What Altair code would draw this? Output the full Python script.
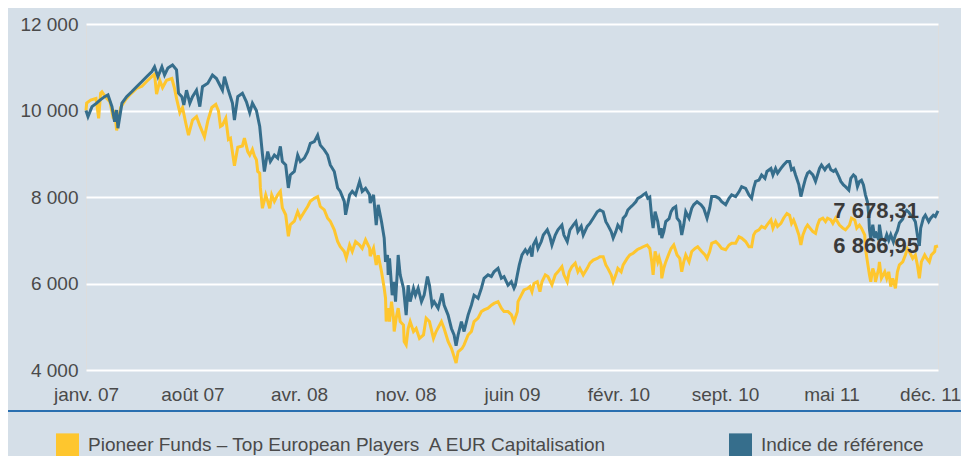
import altair as alt
import pandas as pd

FONT = "Liberation Sans, Arial, sans-serif"
BG = "#d5dfe8"
YELLOW = "#fec62e"
BLUE = "#366e8c"
TXT = "#4a4a4a"

FONDS = "Pioneer Funds \u2013 Top European Players\u00a0 A EUR Capitalisation"
INDICE = "Indice de r\u00e9f\u00e9rence"

x_ticks = [0, 160, 320, 480, 640, 800, 960, 1120, 1268]
x_labels = ["janv. 07", "ao\u00fbt 07", "avr. 08", "nov. 08", "juin 09",
            "f\u00e9vr. 10", "sept. 10", "mai 11", "d\u00e9c. 11"]
y_ticks = [4000, 6000, 8000, 10000, 12000]

# (séance, valeur) - indice de référence
indice_pts = [
    (0, 10000), (3, 9860), (9, 10090), (16, 10170), (21, 10240), (28, 10320), (33, 10360), (39, 10090),
    (43, 9740), (46, 10010), (48, 9590), (54, 10170), (61, 10320), (69, 10440), (76, 10550), (84, 10670),
    (91, 10780), (99, 10900), (103, 11010), (108, 10780), (114, 11010), (118, 10820), (123, 10980),
    (130, 11050), (136, 10940), (139, 10400), (144, 10320), (147, 10130), (151, 10470), (156, 10170),
    (160, 10320), (166, 10470), (171, 10090), (175, 10550), (183, 10630), (190, 10820), (196, 10740),
    (201, 10590), (205, 10470), (208, 10780), (213, 10510), (220, 10170), (223, 9780), (228, 10320),
    (235, 10400), (241, 10200), (246, 9950), (250, 10170), (256, 10000), (261, 9630), (265, 9000),
    (268, 8590), (273, 9050), (277, 8820), (283, 8970), (288, 8900), (292, 9170), (295, 8820), (300, 8740),
    (304, 8210), (307, 8510), (313, 8590), (318, 8970), (322, 8820), (328, 8900), (333, 9050), (337, 9240),
    (343, 9280), (348, 9430), (352, 9200), (358, 9090), (363, 8970), (367, 8740), (373, 8590), (378, 8210),
    (382, 8130), (388, 7900), (390, 7590), (396, 8050), (400, 8130), (405, 8050), (411, 8360), (415, 8130),
    (420, 8200), (426, 8050), (427, 7860), (432, 8050), (436, 7350), (439, 7820), (444, 7430), (448, 7050),
    (450, 6500), (453, 6660), (454, 6200), (456, 6580), (460, 5730), (463, 6040), (465, 5580), (468, 6350),
    (469, 6660), (472, 6200), (477, 5890), (478, 5730), (481, 5270), (484, 5960), (487, 5580), (492, 5890),
    (495, 5730), (499, 5890), (504, 5580), (508, 5730), (513, 6160), (516, 5960), (520, 5500), (523, 5580),
    (529, 5430), (535, 5770), (538, 5500), (544, 5270), (549, 4960), (553, 4810), (556, 4560), (559, 4810),
    (564, 5120), (568, 4890), (574, 5270), (579, 5500), (583, 5730), (589, 5660), (594, 5890), (598, 6120),
    (604, 6200), (609, 6160), (613, 6270), (619, 6350), (624, 6120), (628, 6160), (634, 5960), (639, 6040),
    (643, 5890), (645, 5960), (648, 6200), (651, 6430), (655, 6660), (660, 6780), (663, 6700), (667, 6810),
    (670, 6620), (672, 6890), (676, 7010), (679, 6810), (684, 6970), (687, 7120), (693, 7240), (697, 7080),
    (700, 6890), (705, 7120), (709, 7240), (715, 7350), (718, 7120), (723, 6970), (727, 7240), (732, 7350),
    (736, 7430), (739, 7200), (744, 7320), (747, 7120), (753, 7320), (757, 7390), (762, 7510), (768, 7660),
    (772, 7700), (777, 7660), (781, 7430), (784, 7350), (789, 7200), (792, 7050), (796, 7200), (799, 7350),
    (804, 7240), (807, 7510), (811, 7580), (814, 7700), (819, 7780), (822, 7820), (826, 7890), (829, 7970),
    (834, 8010), (837, 8050), (841, 8090), (844, 7970), (847, 8000), (850, 7510), (852, 7280), (855, 7660),
    (859, 7430), (862, 7120), (864, 7280), (865, 7050), (868, 7200), (871, 7430), (876, 7500), (879, 7660),
    (882, 7740), (886, 7780), (888, 7510), (892, 7430), (895, 7120), (898, 7350), (901, 7660), (906, 7510),
    (910, 7740), (913, 7820), (918, 7890), (924, 7820), (928, 7740), (933, 7510), (937, 7740), (940, 8010),
    (946, 8010), (951, 7970), (955, 7890), (961, 7820), (966, 7970), (970, 8050), (976, 8010), (981, 8120),
    (985, 8240), (991, 8200), (996, 8050), (1000, 7970), (1003, 8200), (1006, 8360), (1011, 8390),
    (1015, 8510), (1020, 8430), (1023, 8590), (1029, 8660), (1032, 8510), (1036, 8660), (1039, 8550),
    (1044, 8660), (1048, 8740), (1053, 8820), (1057, 8820), (1060, 8630), (1063, 8660), (1066, 8510),
    (1071, 8280), (1074, 8010), (1077, 8200), (1081, 8430), (1084, 8550), (1087, 8590), (1092, 8510),
    (1096, 8360), (1099, 8510), (1102, 8660), (1105, 8740), (1110, 8630), (1113, 8700), (1116, 8740),
    (1119, 8630), (1123, 8590), (1126, 8630), (1131, 8470), (1134, 8360), (1138, 8280), (1141, 8240),
    (1146, 8160), (1149, 8430), (1153, 8510), (1156, 8470), (1159, 8240), (1162, 8360), (1165, 8390),
    (1168, 8280), (1171, 8050), (1174, 7890), (1176, 7580), (1177, 7250), (1179, 7020), (1182, 7360),
    (1185, 7050), (1186, 7200), (1191, 7010), (1192, 7360), (1195, 7050), (1200, 6990), (1203, 7130),
    (1206, 7000), (1209, 7130), (1213, 6960), (1216, 7120), (1219, 7220), (1222, 7400), (1227, 7490),
    (1230, 7640), (1233, 7690), (1236, 7650), (1239, 7580), (1243, 7510), (1246, 7430), (1249, 7120),
    (1252, 6870), (1254, 7280), (1258, 7510), (1261, 7580), (1266, 7430), (1269, 7510), (1273, 7580),
    (1276, 7550), (1280, 7678.31),
]

# (séance, valeur) - fonds
fonds_pts = [
    (0, 10000), (1, 10170), (7, 10240), (15, 10280), (19, 9820), (22, 10400), (24, 10430), (30, 10300),
    (36, 10200), (40, 9900), (43, 10010), (46, 9540), (52, 10070), (60, 10260), (67, 10380), (76, 10510),
    (84, 10560), (91, 10670), (99, 10790), (103, 10840), (106, 10380), (111, 10690), (115, 10530),
    (121, 10700), (129, 10740), (133, 10510), (136, 10280), (141, 9950), (145, 10070), (150, 9700),
    (154, 9430), (160, 9780), (166, 9860), (171, 9650), (178, 9390), (183, 9760), (189, 10070), (195, 10140),
    (199, 9990), (202, 9630), (205, 9660), (210, 9820), (214, 9330), (217, 9360), (223, 8720), (228, 9150),
    (235, 9180), (238, 9360), (243, 9050), (246, 8970), (250, 9100), (253, 8950), (256, 8860), (258, 8590),
    (261, 8550), (262, 8210), (265, 7740), (270, 8050), (273, 7900), (276, 7740), (279, 8050), (283, 7900),
    (288, 8050), (292, 8130), (295, 7750), (300, 7590), (304, 7090), (307, 7360), (313, 7440), (318, 7660),
    (322, 7510), (328, 7660), (333, 7780), (337, 7900), (343, 7970), (348, 8010), (352, 7780), (358, 7700),
    (363, 7510), (367, 7440), (373, 7240), (378, 6970), (382, 6850), (388, 6740), (391, 6590), (396, 6890),
    (400, 6740), (405, 6970), (411, 6890), (415, 6810), (420, 7010), (426, 6820), (427, 6630), (432, 6820),
    (436, 6430), (439, 6650), (444, 6270), (448, 5890), (450, 5660), (451, 5120), (454, 5430), (456, 5120),
    (459, 5580), (462, 5200), (463, 4890), (466, 5200), (469, 5430), (472, 5120), (477, 5040), (478, 4660),
    (481, 4580), (484, 4960), (487, 5120), (492, 4890), (496, 4960), (501, 4730), (507, 4810), (511, 5200),
    (516, 5120), (522, 4730), (526, 4890), (534, 5120), (538, 4960), (544, 4660), (549, 4500), (553, 4310),
    (556, 4160), (559, 4420), (565, 4500), (568, 4580), (574, 4810), (579, 4890), (583, 5120), (589, 5200),
    (594, 5350), (598, 5390), (604, 5430), (609, 5500), (613, 5540), (619, 5580), (624, 5430), (628, 5350),
    (634, 5350), (639, 5280), (643, 5120), (648, 5350), (649, 5580), (654, 5730), (658, 5850), (664, 5890),
    (667, 5930), (670, 5810), (673, 6000), (678, 6040), (682, 5810), (685, 6040), (690, 6200), (694, 6160),
    (700, 5970), (705, 6200), (709, 6270), (715, 6390), (718, 6200), (723, 6040), (726, 6270), (730, 6390),
    (735, 6470), (739, 6270), (742, 6350), (747, 6200), (753, 6350), (757, 6470), (762, 6540), (768, 6580),
    (772, 6620), (777, 6620), (781, 6430), (784, 6350), (789, 6200), (792, 6040), (796, 6200), (799, 6350),
    (804, 6270), (807, 6430), (813, 6580), (817, 6660), (822, 6700), (828, 6780), (832, 6810), (837, 6850),
    (843, 6890), (847, 6810), (850, 6500), (852, 6200), (855, 6740), (859, 6500), (861, 6600), (864, 6430),
    (865, 6120), (868, 6350), (871, 6500), (876, 6700), (879, 6810), (883, 6890), (888, 6660), (892, 6580),
    (895, 6270), (898, 6500), (901, 6660), (906, 6500), (910, 6740), (915, 6810), (919, 6850), (925, 6740),
    (930, 6660), (933, 6580), (937, 6740), (940, 6930), (946, 6970), (951, 6890), (955, 6810), (961, 6780),
    (966, 6890), (970, 6930), (976, 6930), (981, 7080), (985, 7050), (991, 6970), (996, 6850), (1000, 6850),
    (1003, 7120), (1006, 7200), (1011, 7240), (1015, 7320), (1020, 7280), (1023, 7350), (1029, 7470),
    (1032, 7280), (1036, 7430), (1039, 7320), (1044, 7390), (1048, 7510), (1053, 7620), (1057, 7580),
    (1060, 7390), (1063, 7470), (1066, 7350), (1071, 7120), (1074, 6890), (1077, 7120), (1081, 7280),
    (1084, 7350), (1092, 7200), (1096, 7160), (1099, 7350), (1102, 7470), (1107, 7510), (1111, 7430),
    (1114, 7510), (1119, 7470), (1122, 7390), (1126, 7510), (1129, 7430), (1132, 7350), (1137, 7280),
    (1141, 7240), (1147, 7350), (1150, 7510), (1155, 7470), (1158, 7280), (1162, 7350), (1165, 7280),
    (1170, 7120), (1171, 6810), (1174, 6500), (1177, 6200), (1179, 6040), (1182, 6350), (1185, 6200),
    (1186, 6040), (1191, 6350), (1192, 6500), (1195, 6120), (1200, 6270), (1203, 6120), (1206, 6270),
    (1209, 5930), (1212, 6120), (1216, 5890), (1219, 6270), (1222, 6430), (1227, 6500), (1231, 6660),
    (1234, 6810), (1237, 6740), (1242, 6580), (1246, 6660), (1249, 6430), (1252, 6120), (1255, 6500),
    (1260, 6660), (1263, 6580), (1267, 6500), (1270, 6660), (1275, 6740), (1276, 6850), (1280, 6866.95),
]

df_f = pd.DataFrame(fonds_pts, columns=["seance", "valeur"])
df_f["serie"] = FONDS
df_i = pd.DataFrame(indice_pts, columns=["seance", "valeur"])
df_i["serie"] = INDICE
df_last = pd.DataFrame([indice_pts[-1], fonds_pts[-1]], columns=["seance", "valeur"])

label_expr = "[" + ",".join("'" + s + "'" for s in x_labels) + "][round(datum.value / 160)]"

x_enc = alt.X(
    "seance:Q",
    title=None,
    scale=alt.Scale(domain=[0, 1280], nice=False, zero=False),
    axis=alt.Axis(values=x_ticks, labelExpr=label_expr, domain=False, ticks=False, grid=False,
                  labelPadding=15, labelFlush=False, labelOverlap=False,
                  labelFont=FONT, labelFontSize=19, labelColor=TXT),
)
y_enc = alt.Y(
    "valeur:Q",
    title=None,
    scale=alt.Scale(domain=[4000, 12000], nice=False, zero=False),
    axis=alt.Axis(values=y_ticks, format=",d", domain=False, ticks=False, grid=True,
                  gridColor="#ffffff", gridWidth=2, labelPadding=8,
                  labelFont=FONT, labelFontSize=19, labelColor=TXT),
)
color_enc = alt.Color(
    "serie:N",
    scale=alt.Scale(domain=[FONDS, INDICE], range=[YELLOW, BLUE]),
    legend=alt.Legend(title=None, orient="none", legendX=-30, legendY=409, direction="horizontal",
                      columns=2, symbolType="square", symbolSize=132, symbolStrokeWidth=11.5,
                      labelFont=FONT, labelFontSize=19, labelColor=TXT, labelLimit=0,
                      labelOffset=9, columnPadding=103, padding=0),
)

line_f = alt.Chart(df_f).mark_line(strokeWidth=3).encode(x=x_enc, y=y_enc, color=color_enc)
line_i = alt.Chart(df_i).mark_line(strokeWidth=3).encode(x=x_enc, y=y_enc, color=color_enc)
labels = alt.Chart(df_last).mark_text(
    align="right", baseline="middle", dx=-19, font=FONT, fontSize=22, fontWeight="bold", color="#3a3a3a"
).encode(x=x_enc, y=y_enc, text=alt.Text("valeur:Q", format=",.2f"))
rule = alt.Chart(pd.DataFrame({"k": [0]})).mark_rule(color="#2a6fb0", strokeWidth=2).encode(
    x=alt.value(-78), x2=alt.value(875), y=alt.value(387)
)

chart = (
    alt.layer(line_f, line_i, labels, rule)
    .properties(width=852, height=346, autosize=alt.AutoSizeParams(type="none"),
                padding={"left": 78, "top": 16, "right": 23, "bottom": 86}, background=BG)
    .configure_view(stroke=None)
    .configure(locale={"number": {"decimal": ",", "thousands": " ", "grouping": [3],
                                  "currency": ["", " \u20ac"]}})
)

chart.save("out.html", embed_options={"renderer": "svg", "actions": False})
